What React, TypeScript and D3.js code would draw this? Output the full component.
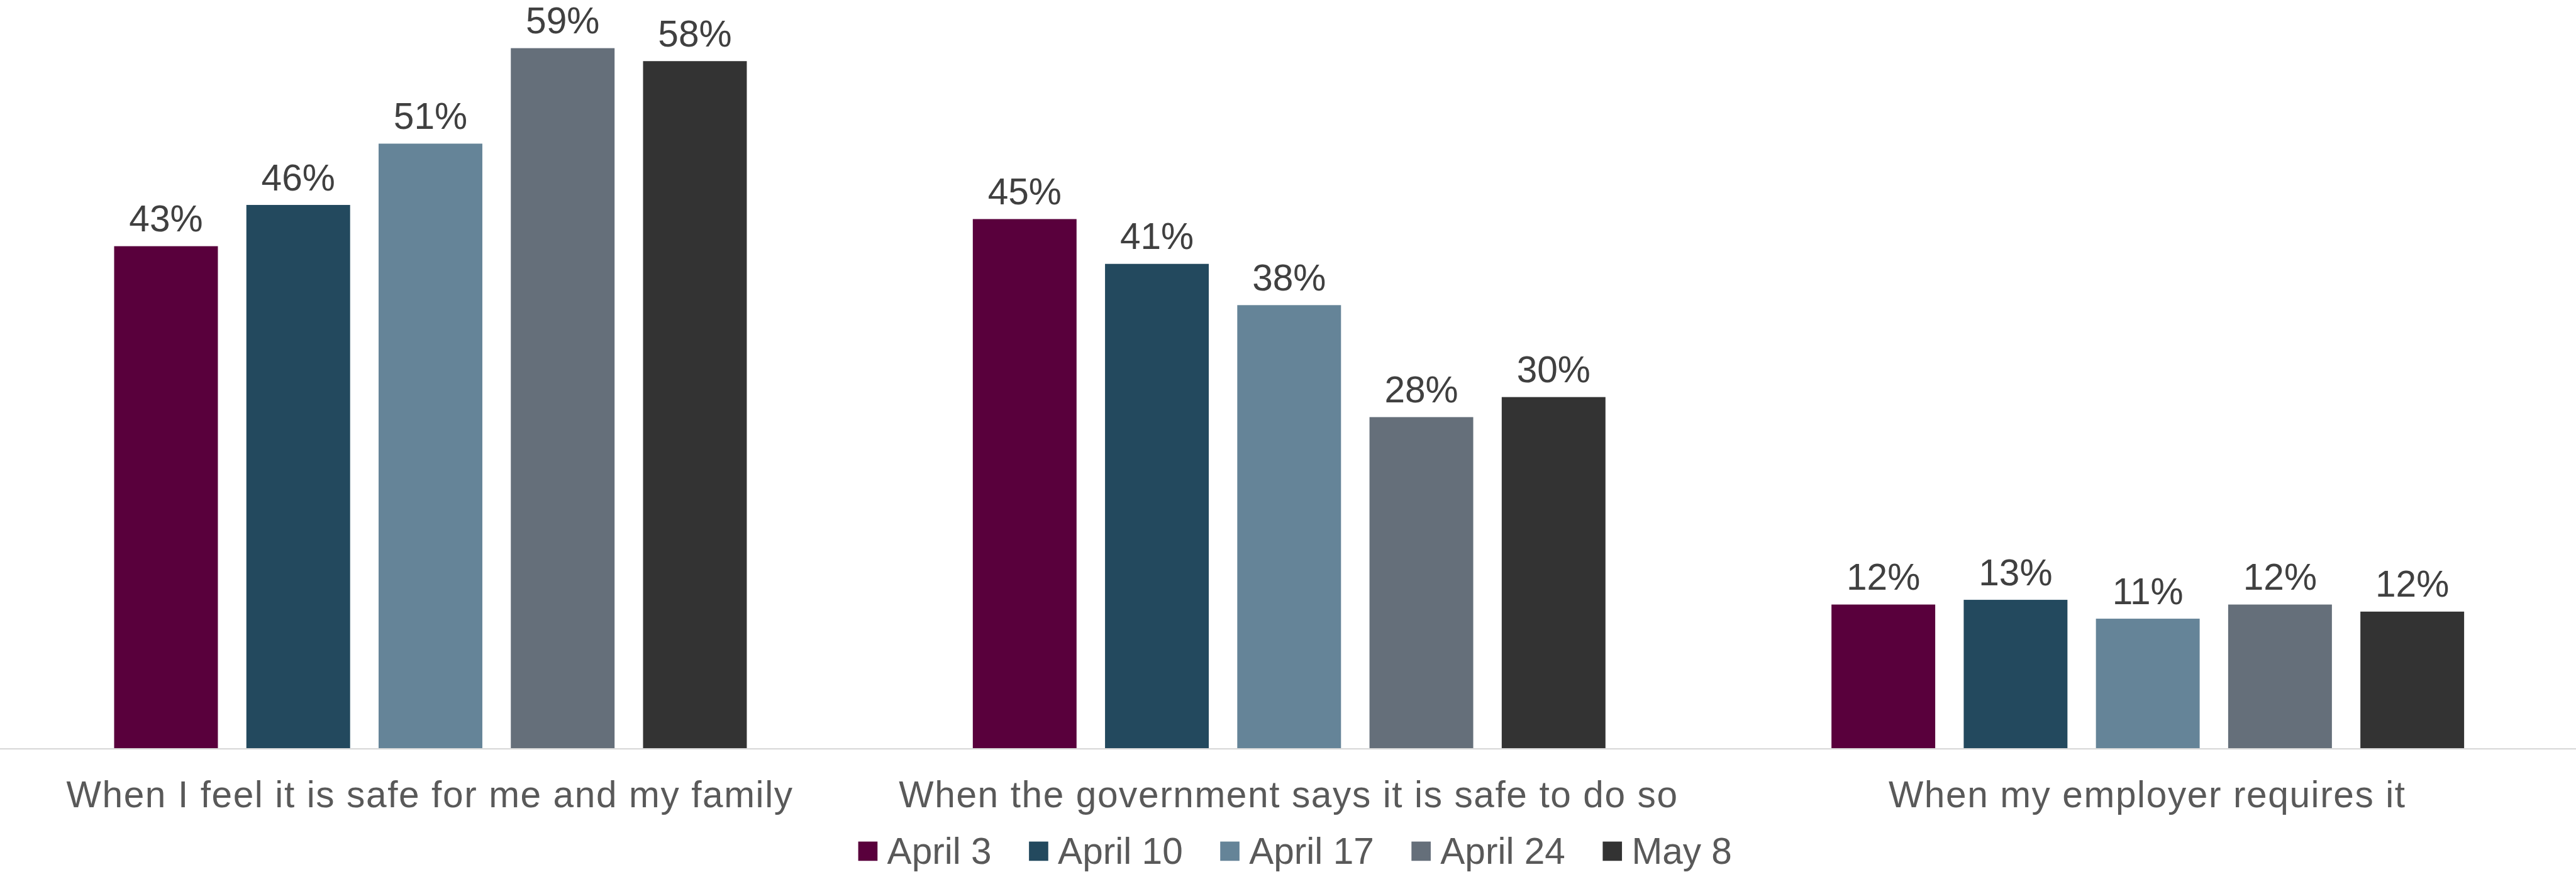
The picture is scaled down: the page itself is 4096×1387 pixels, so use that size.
import React, { useEffect, useRef } from "react";
import * as d3 from "d3";

const categories = [
  "When I feel it is safe for me and my family",
  "When the government says it is safe to do so",
  "When my employer requires it",
];
const seriesNames = ["April 3", "April 10", "April 17", "April 24", "May 8"];
const april3 = [42.6, 44.9, 12.2];
const april10 = [46.1, 41.1, 12.6];
const april17 = [51.3, 37.6, 11.0];
const april24 = [59.4, 28.1, 12.2];
const may8 = [58.3, 29.8, 11.6];
const seriesValues = [april3, april10, april17, april24, may8];
const seriesColors = ["#59003c", "#23495e", "#658498", "#656f7a", "#333333"];

const W = 4096;
const H = 1387;
const S = 4096 / 4544;

export default function App() {
  const ref = useRef<SVGSVGElement>(null);

  useEffect(() => {
    const svg = d3.select(ref.current);
    svg.selectAll("*").remove();
    const font = "'Liberation Sans', Arial, sans-serif";
    const fs = 65 * S;
    const baseline = 1320.5 * S;

    const x0 = d3.scaleBand<string>().domain(categories).range([0, W]).padding(0);
    const x1 = d3
      .scaleBand<string>()
      .domain(seriesNames)
      .range([0, x0.bandwidth()])
      .paddingInner(0.2154)
      .paddingOuter(0.8546);
    const y = d3
      .scaleLinear()
      .domain([0, 100])
      .range([baseline, baseline - 2080 * S]);

    const g = svg.append("g").attr("transform", `translate(${2 * S},0)`);
    seriesNames.forEach((name, si) => {
      const vals = seriesValues[si];
      categories.forEach((cat, ci) => {
        const v = vals[ci];
        const bx = (x0(cat) as number) + (x1(name) as number);
        g.append("rect")
          .attr("x", bx)
          .attr("y", y(v))
          .attr("width", x1.bandwidth())
          .attr("height", baseline - y(v))
          .attr("fill", seriesColors[si]);
        g.append("text")
          .attr("x", bx + x1.bandwidth() / 2)
          .attr("y", y(v) - 26 * S)
          .attr("text-anchor", "middle")
          .attr("font-family", font)
          .attr("font-size", fs)
          .attr("fill", "#404040")
          .text(`${Math.round(v)}%`);
      });
    });

    // axis line
    svg
      .append("line")
      .attr("x1", 0)
      .attr("x2", W)
      .attr("y1", baseline + 1 * S)
      .attr("y2", baseline + 1 * S)
      .attr("stroke", "#d9d9d9")
      .attr("stroke-width", 2.5 * S);

    // category labels
    categories.forEach((cat) => {
      svg
        .append("text")
        .attr("x", (x0(cat) as number) + x0.bandwidth() / 2 + 1)
        .attr("y", 1424 * S)
        .attr("text-anchor", "middle")
        .attr("font-family", font)
        .attr("font-size", fs)
        .attr("letter-spacing", 1.6)
        .attr("fill", "#595959")
        .text(cat);
    });

    // legend
    const lg = svg.append("g");
    const sq = 34 * S;
    const gapText = 17 * S;
    const gapItem = 66 * S;
    const textBase = 1524 * S;
    const sqTop = 1485 * S;
    let cx = 0;
    seriesNames.forEach((name, i) => {
      const r = lg
        .append("rect")
        .attr("y", sqTop)
        .attr("width", sq)
        .attr("height", sq)
        .attr("fill", seriesColors[i]);
      const t = lg
        .append("text")
        .attr("y", textBase)
        .attr("font-family", font)
        .attr("font-size", fs)
        .attr("fill", "#595959")
        .text(name);
      const tw = (t.node() as SVGTextElement).getComputedTextLength();
      r.attr("x", cx);
      t.attr("x", cx + sq + gapText);
      cx += sq + gapText + tw + (i < seriesNames.length - 1 ? gapItem : 0);
    });
    const legendCenter = 2284.5 * S;
    lg.attr("transform", `translate(${legendCenter - cx / 2},0)`);
  }, []);

  return (
    <svg
      ref={ref}
      width={W}
      height={H}
      style={{ position: "absolute", left: 0, top: 0, background: "#ffffff" }}
    />
  );
}
